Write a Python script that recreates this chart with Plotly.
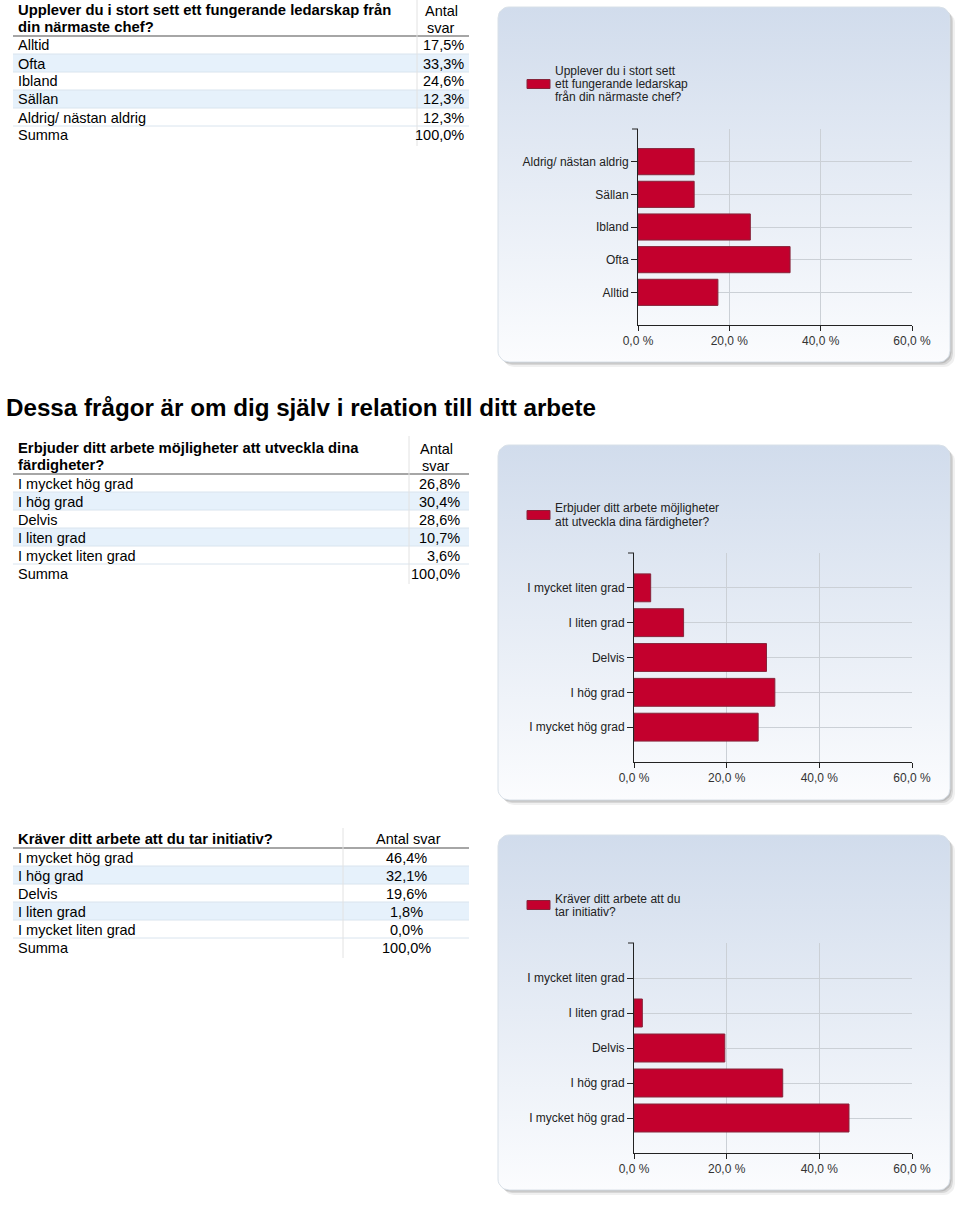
import numpy as np
import plotly.graph_objects as go

W, H = 960, 1206

section_heading = "Dessa frågor är om dig själv i relation till ditt arbete"

q1_title = "Upplever du i stort sett ett fungerande ledarskap från<br>din närmaste chef?"
q1_legend = "Upplever du i stort sett<br>ett fungerande ledarskap<br>från din närmaste chef?"
q1_categories = ["Alltid", "Ofta", "Ibland", "Sällan", "Aldrig/ nästan aldrig"]
q1_values = [17.5, 33.3, 24.6, 12.3, 12.3]

q2_title = "Erbjuder ditt arbete möjligheter att utveckla dina<br>färdigheter?"
q2_legend = "Erbjuder ditt arbete möjligheter<br>att utveckla dina färdigheter?"
q2_categories = ["I mycket hög grad", "I hög grad", "Delvis", "I liten grad", "I mycket liten grad"]
q2_values = [26.8, 30.4, 28.6, 10.7, 3.6]

q3_title = "Kräver ditt arbete att du tar initiativ?"
q3_legend = "Kräver ditt arbete att du<br>tar initiativ?"
q3_categories = ["I mycket hög grad", "I hög grad", "Delvis", "I liten grad", "I mycket liten grad"]
q3_values = [46.4, 32.1, 19.6, 1.8, 0.0]

sum_label = "Summa"
sum_values = [100.0, 100.0, 100.0]
count_label = "Antal svar"
x_ticks = [0, 20, 40, 60]

BAR_RED = "#c3002d"
BAR_EDGE = "#86243a"
GRID = "#cbd0d6"
FONT = "Liberation Sans, Arial, sans-serif"


def px(x):
    return x / W


def py(y):
    return 1 - y / H


def pct(v, sep=""):
    return f"{v:.1f}{sep}%".replace(".", ",")


def text(fig, x, y, s, size=14.5, bold=False, anchor="left", color="#000"):
    if bold:
        s = f"<b>{s}</b>"
    fig.add_annotation(xref="paper", yref="paper", x=px(x), y=py(y), text=s,
                       showarrow=False, xanchor=anchor, yanchor="middle", align=anchor,
                       borderpad=0, font=dict(family=FONT, size=size, color=color))


def hline(fig, x0, x1, y, color, width=1):
    fig.add_shape(type="line", xref="paper", yref="paper", x0=px(x0), x1=px(x1),
                  y0=py(y), y1=py(y), line=dict(color=color, width=width))


def add_table(fig, title, cats, vals, total, head_bottom, n_lines, sep_x, val_x, val_anchor,
              count_x, count_split):
    left, right = 13, 469
    rows = cats + [sum_label]
    row_vals = vals + [total]
    lines = title.split("<br>")
    for k, ln in enumerate(lines):
        yy = head_bottom - 9 - 17 * (n_lines - 1 - k)
        text(fig, 17, yy, ln, size=14.8, bold=True)
    if count_split:
        a, b = count_label.split(" ")
        text(fig, count_x, head_bottom - 25, a, anchor="center")
        text(fig, count_x, head_bottom - 8, b, anchor="center")
    else:
        text(fig, count_x, head_bottom - 9, count_label, anchor="center")
    for i, (c, v) in enumerate(zip(rows, row_vals)):
        yc = head_bottom + 9 + 18 * i
        if i % 2 == 1 and i < len(cats):
            fig.add_shape(type="rect", xref="paper", yref="paper", x0=px(left), x1=px(right),
                          y0=py(yc - 9), y1=py(yc + 9), fillcolor="#e6f1fb",
                          line=dict(width=0), layer="below")
        if i < len(cats):
            hline(fig, left, right, yc + 9, "#d9e4ee")
        text(fig, 17, yc + 0.5, c)
        text(fig, val_x, yc + 0.5, pct(v), anchor=val_anchor)
    hline(fig, left, right, head_bottom, "#a6a6a6", 2)
    top = head_bottom - 18 * n_lines - 2
    fig.add_shape(type="line", xref="paper", yref="paper", x0=px(sep_x), x1=px(sep_x),
                  y0=py(top), y1=py(head_bottom + 18 * len(rows) + 2),
                  line=dict(color="#e2e2e2", width=1))


def rounded_rect(x0, y0, x1, y1, r, n=8):
    xs, ys = [], []
    corners = [(x1 - r, y0 + r, -90, 0), (x1 - r, y1 - r, 0, 90),
               (x0 + r, y1 - r, 90, 180), (x0 + r, y0 + r, 180, 270)]
    for cx, cy, a0, a1 in corners:
        t = np.radians(np.linspace(a0, a1, n))
        xs += list(cx + r * np.cos(t))
        ys += list(cy + r * np.sin(t))
    xs.append(xs[0])
    ys.append(ys[0])
    return xs, ys


fig = go.Figure()

# panel backgrounds on a full-page pixel axis (drawn first, underneath)
panels = [(498, 7, 950, 362), (498, 445, 950, 800), (498, 835, 950, 1190)]
for x0, y0, x1, y1 in panels:
    for off, op in [(5, 0.06), (3, 0.10), (1.5, 0.12)]:
        sx, sy = rounded_rect(x0 + off, y0 + off, x1 + off, y1 + off, 11)
        fig.add_trace(go.Scatter(x=sx, y=sy, mode="lines", fill="toself", line=dict(width=0),
                                 fillcolor=f"rgba(0,0,0,{op})", hoverinfo="skip",
                                 showlegend=False, xaxis="x", yaxis="y"))
    bx, by = rounded_rect(x0, y0, x1, y1, 11)
    fig.add_trace(go.Scatter(x=bx, y=by, mode="lines", fill="toself",
                             line=dict(color="#d8e0e8", width=1),
                             fillgradient=dict(type="vertical", start=y0, stop=y1,
                                               colorscale=[[0, "#d1dcec"], [1, "#fbfcfe"]]),
                             hoverinfo="skip", showlegend=False, xaxis="x", yaxis="y"))

charts = [
    (q1_legend, q1_categories, q1_values, (638, 912, 129, 325), 84),
    (q2_legend, q2_categories, q2_values, (634, 912, 553, 762), 515),
    (q3_legend, q3_categories, q3_values, (634, 912, 943, 1153), 905),
]

layout_axes = {}
for i, (name, cats, vals, (ax0, ax1, ay0, ay1), leg_y) in enumerate(charts, start=2):
    xa, ya = f"x{i}", f"y{i}"
    fig.add_trace(go.Bar(x=vals, y=cats, orientation="h", name=name, width=0.8,
                         marker=dict(color=BAR_RED,
                                     line=dict(color=BAR_EDGE,
                                               width=[1 if v > 0 else 0 for v in vals])),
                         xaxis=xa, yaxis=ya, showlegend=False))
    layout_axes[f"xaxis{i}"] = dict(
        domain=[px(ax0), px(ax1)], anchor=ya, range=[0, 60], tickvals=x_ticks,
        ticktext=[pct(t, " ") for t in x_ticks], showgrid=True, gridcolor=GRID,
        showline=True, linecolor="#222", ticks="outside", ticklen=5, tickcolor="#222",
        zeroline=False, automargin=False,
        tickfont=dict(family=FONT, size=12, color="#333"), fixedrange=True)
    layout_axes[f"yaxis{i}"] = dict(
        domain=[py(ay1), py(ay0)], anchor=xa, type="category", range=[-1, len(cats)],
        showgrid=True, gridcolor=GRID, showline=True, linecolor="#222",
        ticks="outside", ticklen=6, tickcolor="#222", ticklabelstandoff=0, automargin=False,
        tickfont=dict(family=FONT, size=12, color="#222"), fixedrange=True)
    fig.add_shape(type="rect", xref=f"{xa} domain", yref=f"{ya} domain",
                  x0=0, x1=1, y0=0, y1=1, line=dict(color=GRID, width=1), layer="below")
    # small tick at the top end of the value axis
    fig.add_shape(type="line", xref=f"{xa} domain", yref=f"{ya} domain",
                  x0=-6 / (ax1 - ax0), x1=0, y0=1, y1=1, line=dict(color="#222", width=1))
    # legend swatch + label
    fig.add_shape(type="rect", xref="paper", yref="paper", x0=px(527), x1=px(550),
                  y0=py(leg_y - 4.5), y1=py(leg_y + 4.5), fillcolor=BAR_RED,
                  line=dict(color=BAR_EDGE, width=1))
    lines = name.split("<br>")
    for k, ln in enumerate(lines):
        yy = leg_y + 13 * (k - (len(lines) - 1) / 2)
        fig.add_annotation(xref="paper", yref="paper", x=px(554), y=py(yy),
                           text=ln, showarrow=False, xanchor="left", yanchor="middle",
                           borderpad=0, font=dict(family=FONT, size=12, color="#222"))

# tables and heading
add_table(fig, q1_title, q1_categories, q1_values, sum_values[0], 36, 2, 417, 465, "right", 441, True)
text(fig, 5, 407, section_heading, size=24.2, bold=True)
add_table(fig, q2_title, q2_categories, q2_values, sum_values[1], 474, 2, 409, 461, "right", 436, True)
add_table(fig, q3_title, q3_categories, q3_values, sum_values[2], 848, 1, 343, 406, "center", 408, False)

fig.update_layout(
    width=W, height=H, margin=dict(l=0, r=0, t=0, b=0, pad=0, autoexpand=False),
    paper_bgcolor="white", plot_bgcolor="rgba(0,0,0,0)",
    showlegend=False, bargap=0.2,
    xaxis=dict(domain=[0, 1], range=[0, W], visible=False, fixedrange=True, automargin=False),
    yaxis=dict(domain=[0, 1], range=[H, 0], visible=False, fixedrange=True, automargin=False),
    **layout_axes,
)

fig.write_html("out.html", config={"displayModeBar": False},
               post_script="document.body.style.margin='0';document.body.style.overflow='hidden';")
